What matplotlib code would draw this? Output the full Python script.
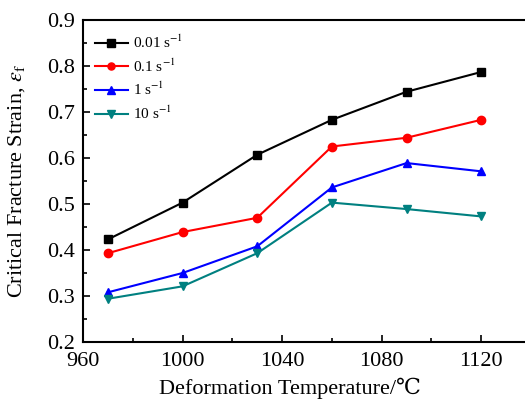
import matplotlib
matplotlib.use("Agg")
import matplotlib.pyplot as plt
from matplotlib.ticker import MultipleLocator

plt.rcParams['font.family'] = ['Liberation Serif', 'DejaVu Serif']
plt.rcParams['mathtext.fontset'] = 'stix'

temps = [970, 1000, 1030, 1060, 1090, 1120]
s001 = [0.423, 0.503, 0.607, 0.683, 0.744, 0.787]
s01 = [0.393, 0.439, 0.470, 0.625, 0.644, 0.683]
s1 = [0.308, 0.350, 0.408, 0.536, 0.589, 0.571]
s10 = [0.294, 0.321, 0.393, 0.503, 0.489, 0.473]
labels = ['0.01 s$^{-1}$', '0.1 s$^{-1}$', '1 s$^{-1}$', '10 s$^{-1}$']

fig = plt.figure(figsize=(5.25, 4.0), dpi=100)
ax = fig.add_axes([83/525, 1 - 342/400, (531 - 83)/525, (342 - 20)/400])

series = [s001, s01, s1, s10]
colors = ['black', '#ff0000', '#0000ff', '#008080']
markers = ['s', 'o', '^', 'v']
for ys, c, m, lab in zip(series, colors, markers, labels):
    ax.plot(temps, ys, color=c, marker=m, markersize=6, linewidth=1.5, label=lab)

ax.set_xlim(960, 1140)
ax.set_ylim(0.2, 0.9)
ax.set_xticks([960, 1000, 1040, 1080, 1120])
ax.xaxis.set_minor_locator(MultipleLocator(20))
ax.yaxis.set_minor_locator(MultipleLocator(0.05))
ax.tick_params(which='both', direction='in', labelsize=16, width=1.2)
ax.tick_params(which='major', length=5)
ax.tick_params(which='minor', length=3)
ax.tick_params(axis='x', pad=7)
ax.tick_params(axis='y', pad=6)
ax.set_yticks([0.2, 0.3, 0.4, 0.5, 0.6, 0.7, 0.8, 0.9])
ax.set_yticklabels(['0.2', '0.3', '0.4', '0.5', '0.6', '0.7', '0.8', '0.9'])
for sp in ax.spines.values():
    sp.set_linewidth(1.5)

ax.set_xlabel('Deformation Temperature/℃', fontsize=16)
ax.xaxis.set_label_coords(0.462, -0.112)
ax.set_ylabel(r'Critical Fracture Strain, $\varepsilon_{\mathrm{f}}$', fontsize=16, labelpad=14)

leg = ax.legend(loc='upper left', bbox_to_anchor=(-0.005, 1.0), frameon=False, fontsize=11,
                handlelength=2.2, labelspacing=0.42, handletextpad=0.3, markerscale=0.85)

fig.savefig('out.png', dpi=100)
